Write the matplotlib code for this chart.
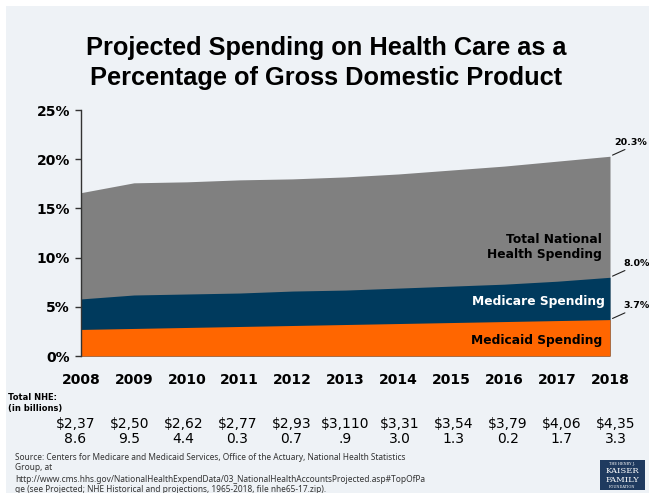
import matplotlib
matplotlib.use("Agg")
import matplotlib.pyplot as plt
from matplotlib.patches import Rectangle
import matplotlib.transforms as mtransforms

years = [2008, 2009, 2010, 2011, 2012, 2013, 2014, 2015, 2016, 2017, 2018]
total_nhe_pct = [16.6, 17.6, 17.7, 17.9, 18.0, 18.2, 18.5, 18.9, 19.3, 19.8, 20.3]
medicare_pct = [5.8, 6.2, 6.3, 6.4, 6.6, 6.7, 6.9, 7.1, 7.3, 7.6, 8.0]
medicaid_pct = [2.7, 2.8, 2.9, 3.0, 3.1, 3.2, 3.3, 3.4, 3.5, 3.6, 3.7]
nhe_line1 = ["$2,37", "$2,50", "$2,62", "$2,77", "$2,93", "$3,110", "$3,31", "$3,54", "$3,79", "$4,06", "$4,35"]
nhe_line2 = ["8.6", "9.5", "4.4", "0.3", "0.7", ".9", "3.0", "1.3", "0.2", "1.7", "3.3"]
yticks = [0, 5, 10, 15, 20, 25]
ytick_labels = ["0%", "5%", "10%", "15%", "20%", "25%"]
end_labels = ["20.3%", "8.0%", "3.7%"]

plt.rcParams["font.family"] = ["DejaVu Sans"]
TITLE_FONT = ["Liberation Sans", "DejaVu Sans"]
SRC_FONT = ["Noto Sans", "DejaVu Sans"]

W, H = 649, 493
fig = plt.figure(figsize=(W / 100, H / 100), dpi=100)
fig.patch.set_facecolor("white")
bg = Rectangle((6 / W, 0), 1, 1 - 6 / H, transform=fig.transFigure,
               facecolor="#EEF2F6", edgecolor="none", zorder=-10)
fig.patches.append(bg)

ax = fig.add_axes([81 / W, 1 - 356 / H, (610 - 81) / W, (356 - 110) / H])
ax.set_facecolor("none")

gray, navy, orange = "#808080", "#003A5D", "#FF6600"
ax.fill_between(years, 0, total_nhe_pct, color=gray, lw=0)
ax.fill_between(years, 0, medicare_pct, color=navy, lw=0)
ax.fill_between(years, 0, medicaid_pct, color=orange, lw=0)

ax.set_xlim(years[0], years[-1])
ax.set_ylim(0, 25)
ax.set_yticks(yticks)
ax.set_yticklabels(ytick_labels, fontweight="bold", fontsize=10)
ax.set_xticks(years)
ax.set_xticklabels([str(y) for y in years], fontweight="bold", fontsize=10)
ax.tick_params(axis="x", length=0, pad=12)
ax.tick_params(axis="y", length=4, width=1, color="#333333", pad=4)
for s in ["top", "right", "bottom"]:
    ax.spines[s].set_visible(False)
ax.spines["left"].set_color("#333333")
ax.spines["left"].set_linewidth(1)

# in-area labels
ax.text(2017.85, 11.1, "Total National\nHealth Spending", ha="right", va="center",
        fontsize=8.8, fontweight="bold", color="black", linespacing=1.15)
ax.text(2017.9, 5.5, "Medicare Spending", ha="right", va="center",
        fontsize=8.8, fontweight="bold", color="white")
ax.text(2017.85, 1.6, "Medicaid Spending", ha="right", va="center",
        fontsize=8.8, fontweight="bold", color="black")

# end annotations
ends = [total_nhe_pct[-1], medicare_pct[-1], medicaid_pct[-1]]
text_dx = [0.08, 0.25, 0.25]
for val, lab, tdx in zip(ends, end_labels, text_dx):
    x0, y0 = years[-1], val
    ax.annotate("", xy=(x0, y0), xytext=(x0 + 0.33, y0 + 0.8),
                arrowprops=dict(arrowstyle="-", color="#222222", lw=0.8),
                annotation_clip=False)
    ax.text(x0 + tdx, y0 + 0.95, lab, ha="left", va="bottom", fontsize=6.8,
            fontweight="bold", color="black", clip_on=False)

# title
for txt, yy in [("Projected Spending on Health Care as a", 48),
                ("Percentage of Gross Domestic Product", 78)]:
    fig.text(0.503, 1 - yy / H, txt, ha="center", va="center", fontsize=18.3,
             fontweight="bold", family=TITLE_FONT)

# NHE table
fig.text(8 / W, 1 - 397 / H, "Total NHE:", ha="left", va="center", fontsize=6,
         fontweight="bold")
fig.text(8 / W, 1 - 408 / H, "(in billions)", ha="left", va="center", fontsize=6,
         fontweight="bold")
trans = mtransforms.blended_transform_factory(ax.transData, fig.transFigure)
for i, (a, b) in enumerate(zip(nhe_line1, nhe_line2)):
    # columns spread slightly wider than the year ticks
    xd = years[i] + (years[i] - 2013) * 0.022
    fig.text(xd, 1 - 424 / H, a, ha="center", va="center", fontsize=10,
             transform=trans)
    fig.text(xd, 1 - 439 / H, b, ha="center", va="center", fontsize=10,
             transform=trans)

# source
src = ["Source: Centers for Medicare and Medicaid Services, Office of the Actuary, National Health Statistics",
       "Group, at",
       "http://www.cms.hhs.gov/NationalHealthExpendData/03_NationalHealthAccountsProjected.asp#TopOfPa",
       "ge (see Projected; NHE Historical and projections, 1965-2018, file nhe65-17.zip)."]
for k, line in enumerate(src):
    fig.text(15 / W, 1 - (457 + 11 * k) / H, line, ha="left", va="center",
             fontsize=6, color="#333333", family=SRC_FONT)

# logo
logo = Rectangle((600 / W, 1 - 490 / H), 45 / W, 30 / H, transform=fig.transFigure,
                 facecolor="#1F3A5F", edgecolor="none")
fig.patches.append(logo)
fig.text(622 / W, 1 - 464 / H, "THE HENRY J.", ha="center", va="center", fontsize=2.5,
         color="white", family="DejaVu Serif")
fig.text(622 / W, 1 - 471 / H, "KAISER", ha="center", va="center", fontsize=6,
         color="white", family="DejaVu Serif")
fig.text(622 / W, 1 - 480 / H, "FAMILY", ha="center", va="center", fontsize=6,
         color="white", family="DejaVu Serif")
fig.text(622 / W, 1 - 487 / H, "FOUNDATION", ha="center", va="center", fontsize=2.5,
         color="white", family="DejaVu Serif")

fig.savefig("out.png", dpi=100, facecolor=fig.get_facecolor())
